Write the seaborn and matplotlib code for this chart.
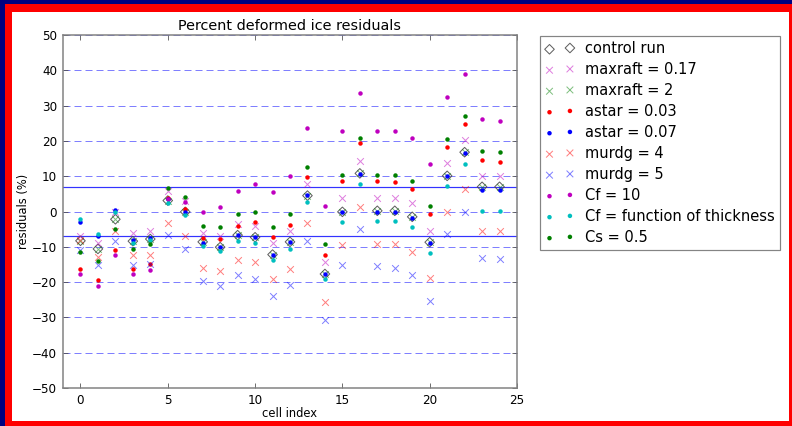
import matplotlib
matplotlib.use("Agg")
import matplotlib.pyplot as plt
from matplotlib.patches import Rectangle
import seaborn as sns
import pandas as pd

cells = list(range(25))
control = [-8.3, -10.6, -2.2, -8.4, -7.8, 3.1, -0.1, -8.6, -10.1, -6.7, -7.3, -12.2, -8.6,
           4.5, -17.7, -0.1, 10.8, 0.2, 0.2, -1.5, -8.7, 10.1, 16.8, 7.0, 7.0]
maxraft_017 = [-7.0, -8.8, 0.0, -6.0, -5.5, 5.7, 3.0, -6.0, -6.9, -3.5, -4.1, -8.8, -5.4,
               7.7, -14.4, 3.8, 14.3, 3.7, 3.7, 2.3, -5.4, 13.6, 20.3, 10.1, 10.1]
maxraft_2 = [-8.3, -10.6, -2.2, -8.4, -7.8, 3.1, -0.1, -8.6, -10.1, -6.7, -7.3, -12.2, -8.6,
             4.5, -17.7, -0.1, 10.8, 0.2, 0.2, -1.5, -8.7, 10.1, 16.8, 7.0, 7.0]
astar_003 = [-16.3, -19.4, -10.8, -16.2, -15.0, 3.8, 0.6, -7.6, -7.8, -4.1, -3.0, -7.3, -3.7,
             9.7, -12.2, 8.7, 19.3, 8.7, 8.4, 6.5, -0.7, 18.2, 24.8, 14.6, 14.0]
astar_007 = [-3.0, -7.0, 0.3, -8.2, -7.6, 3.4, 0.0, -8.9, -10.1, -6.7, -7.3, -12.2, -8.6,
             4.6, -17.7, 0.0, 10.7, 0.0, 0.0, -1.8, -8.9, 10.0, 16.6, 6.0, 6.0]
murdg_4 = [-8.0, -12.8, -5.4, -12.4, -12.3, -3.3, -6.9, -15.9, -16.9, -13.7, -14.3, -19.2, -16.2,
           -3.3, -25.6, -9.5, 1.2, -9.3, -9.3, -11.4, -18.8, 0.0, 6.3, -5.4, -5.4]
murdg_5 = [-10.8, -15.2, -8.4, -15.2, -14.9, -6.7, -10.7, -19.6, -21.1, -18.1, -19.0, -23.9, -20.9,
           -8.3, -30.7, -15.2, -4.9, -15.4, -16.0, -17.9, -25.4, -6.4, -0.2, -13.2, -13.5]
cf_10 = [-17.7, -21.1, -12.3, -17.6, -16.6, 3.6, 2.6, -0.2, 1.2, 5.9, 7.8, 5.5, 10.1,
         23.6, 1.6, 22.9, 33.5, 22.9, 22.9, 20.9, 13.5, 32.4, 38.9, 26.3, 25.5]
cf_thick = [-2.0, -6.5, 0.0, -8.8, -8.2, 2.5, -0.9, -9.8, -11.1, -8.3, -9.0, -13.7, -10.5,
            2.8, -19.2, -3.0, 7.8, -2.6, -2.6, -4.5, -11.7, 7.2, 13.5, 0.2, 0.2]
cs_05 = [-11.5, -14.0, -5.0, -10.7, -9.3, 6.7, 4.2, -4.1, -4.5, -0.7, -0.1, -4.5, -0.7,
         12.7, -9.2, 10.3, 20.7, 10.3, 10.3, 8.6, 1.6, 20.5, 27.1, 17.1, 16.9]

series_names = ["control run", "maxraft = 0.17", "maxraft = 2", "astar = 0.03", "astar = 0.07",
                "murdg = 4", "murdg = 5", "Cf = 10", "Cf = function of thickness", "Cs = 0.5"]
series_vals = [control, maxraft_017, maxraft_2, astar_003, astar_007,
               murdg_4, murdg_5, cf_10, cf_thick, cs_05]
thresholds = [7, -7]
ytick_vals = list(range(-50, 51, 10))
xtick_vals = list(range(0, 26, 5))

styles = {
    "control run": dict(marker="D", s=46, facecolor="none", edgecolor="0.3", linewidth=1.0, alpha=0.9),
    "maxraft = 0.17": dict(marker="x", s=45, color=(0.75, 0, 0.75), linewidth=1.0, alpha=0.5),
    "maxraft = 2": dict(marker="x", s=45, color=(0, 0.5, 0), linewidth=1.0, alpha=0.5),
    "astar = 0.03": dict(marker="o", s=20, color="r", linewidth=0),
    "astar = 0.07": dict(marker="o", s=20, color="b", linewidth=0),
    "murdg = 4": dict(marker="x", s=45, color="r", linewidth=1.0, alpha=0.5),
    "murdg = 5": dict(marker="x", s=45, color="b", linewidth=1.0, alpha=0.5),
    "Cf = 10": dict(marker="o", s=20, color=(0.75, 0, 0.75), linewidth=0),
    "Cf = function of thickness": dict(marker="o", s=20, color=(0, 0.75, 0.75), linewidth=0),
    "Cs = 0.5": dict(marker="o", s=20, color=(0, 0.5, 0), linewidth=0),
}

W, H, DPI = 792, 426, 72
fig = plt.figure(figsize=(W / DPI, H / DPI), dpi=DPI)
fig.patch.set_facecolor("white")
fig.patches.extend([
    Rectangle((0, 0), 1, 1, transform=fig.transFigure, facecolor="#000080", edgecolor="none", zorder=-3),
    Rectangle((5 / W, 0), 1 - 5 / W, 422 / H, transform=fig.transFigure, facecolor="#ff0000",
              edgecolor="none", zorder=-2),
    Rectangle((12 / W, 5 / H), (789 - 12) / W, (414 - 5) / H, transform=fig.transFigure,
              facecolor="white", edgecolor="none", zorder=-1),
])

ax = fig.add_axes([63 / W, 1 - 388 / H, (517 - 63) / W, (388 - 35) / H])

for name, vals in zip(series_names, series_vals):
    df = pd.DataFrame({"cell": cells, "resid": vals})
    st = dict(styles[name])
    z = 3 if st["marker"] == "D" else 4
    sns.scatterplot(data=df, x="cell", y="resid", ax=ax, label=name, legend=False, zorder=z, **st)

for t in thresholds:
    ax.axhline(t, color="#3333ff", lw=1.2, zorder=2)

ax.set_xlim(-1, 25)
ax.set_ylim(-50, 50)
ax.set_xticks(xtick_vals)
ax.set_yticks(ytick_vals)
ax.yaxis.grid(True, color="b", linestyle=(0, (7, 4)), linewidth=1.0, alpha=0.5, zorder=1)
ax.xaxis.grid(False)
ax.set_axisbelow(True)
ax.tick_params(direction="in", top=True, right=True, length=5, labelsize=12, color="0.3", pad=6)
for sp in ax.spines.values():
    sp.set_color("0.5")
    sp.set_linewidth(1.5)

ax.set_title("Percent deformed ice residuals", fontsize=14.4, pad=5)
ax.set_xlabel("cell index", fontsize=11.5, labelpad=0)
ax.set_ylabel("residuals (%)", fontsize=11.5, labelpad=2)

handles, labels = ax.get_legend_handles_labels()
leg = fig.legend(handles, labels, loc="upper left", bbox_to_anchor=(540 / W, 1 - 36 / H),
                 bbox_transform=fig.transFigure, scatterpoints=2, fontsize=14.6, fancybox=False,
                 frameon=True, borderaxespad=0, handletextpad=0.75, labelspacing=0.41,
                 borderpad=0.35, handlelength=2.0)
leg.get_frame().set_edgecolor("0.4")
leg.get_frame().set_linewidth(1.2)

fig.savefig("out.png", dpi=DPI, facecolor=fig.get_facecolor())
